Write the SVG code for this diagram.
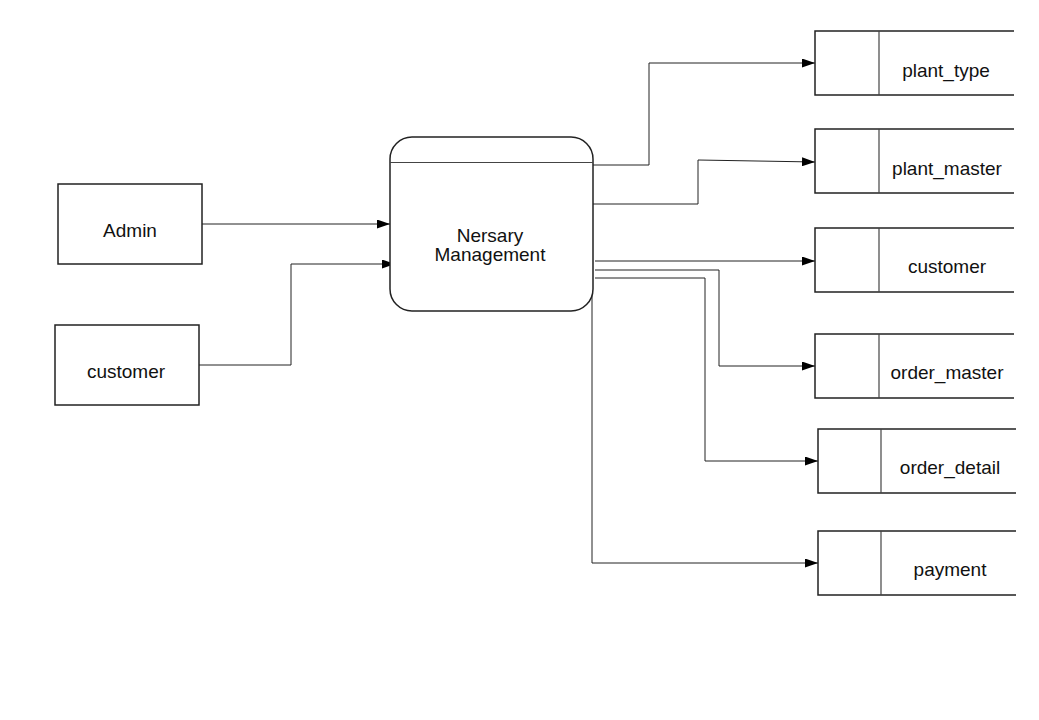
<svg xmlns="http://www.w3.org/2000/svg" width="1039" height="720" viewBox="0 0 1039 720">
<style>
text{font-family:"Liberation Sans",Arial,sans-serif;font-size:19px;fill:#111;text-anchor:middle}
.box{fill:#fff;stroke:#222;stroke-width:1.5}
.ds{fill:none;stroke:#222;stroke-width:1.5}
.dv{stroke:#444;stroke-width:1.2}
.c{fill:none;stroke:#222;stroke-width:1}
</style>
<defs>
<marker id="a" viewBox="0 0 13 9" refX="13" refY="4.5" markerWidth="13" markerHeight="9" markerUnits="userSpaceOnUse" orient="auto">
<path d="M0,0 L13,4.5 L0,9 Z" fill="#000"/>
</marker>
</defs>
<rect width="1039" height="720" fill="#fff"/>
<g id="connectors">
<path class="c" d="M202,224 H390" marker-end="url(#a)"/>
<path class="c" d="M199,365 H291 V264 H395" marker-end="url(#a)"/>
<path class="c" d="M593,165 H649 V63 H815" marker-end="url(#a)"/>
<path class="c" d="M593,204 H698 V160 L815,162" marker-end="url(#a)"/>
<path class="c" d="M595,261 H815" marker-end="url(#a)"/>
<path class="c" d="M595,270 H719 V366 H815" marker-end="url(#a)"/>
<path class="c" d="M595,278 H705 V461 H818" marker-end="url(#a)"/>
<path class="c" d="M592,290 V563 H818" marker-end="url(#a)"/>
</g>
<g id="admin">
<rect class="box" x="58" y="184" width="144" height="80"/>
<text x="130" y="237">Admin</text>
</g>
<g id="customer-ext">
<rect class="box" x="55" y="325" width="144" height="80"/>
<text x="126" y="378">customer</text>
</g>
<g id="process">
<rect class="box" x="390" y="137" width="203" height="174" rx="22" ry="22"/>
<line class="dv" x1="390" y1="162.5" x2="593" y2="162.5"/>
<text x="490" y="242">Nersary</text>
<text x="490" y="261">Management</text>
</g>
<g id="ds-plant_type">
<path class="ds" d="M1014,31 H815 V95 H1014"/>
<line class="dv" x1="879" y1="31" x2="879" y2="95"/>
<text x="946" y="77">plant_type</text>
</g>
<g id="ds-plant_master">
<path class="ds" d="M1014,129 H815 V193 H1014"/>
<line class="dv" x1="879" y1="129" x2="879" y2="193"/>
<text x="947" y="175">plant_master</text>
</g>
<g id="ds-customer">
<path class="ds" d="M1014,228 H815 V292 H1014"/>
<line class="dv" x1="879" y1="228" x2="879" y2="292"/>
<text x="947" y="273">customer</text>
</g>
<g id="ds-order_master">
<path class="ds" d="M1014,334 H815 V398 H1014"/>
<line class="dv" x1="879" y1="334" x2="879" y2="398"/>
<text x="947" y="379">order_master</text>
</g>
<g id="ds-order_detail">
<path class="ds" d="M1016,429 H818 V493 H1016"/>
<line class="dv" x1="881" y1="429" x2="881" y2="493"/>
<text x="950" y="474">order_detail</text>
</g>
<g id="ds-payment">
<path class="ds" d="M1016,531 H818 V595 H1016"/>
<line class="dv" x1="881" y1="531" x2="881" y2="595"/>
<text x="950" y="576">payment</text>
</g>
</svg>
